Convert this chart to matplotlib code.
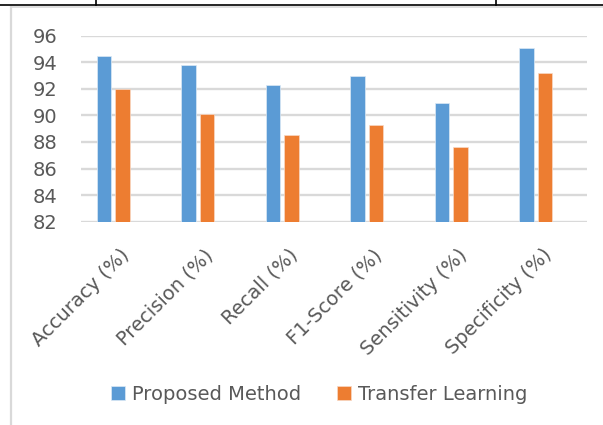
import matplotlib.pyplot as plt
from matplotlib.lines import Line2D
from matplotlib.transforms import ScaledTranslation
import numpy as np

plt.rcParams['font.family'] = ['DejaVu Sans']

# metric names and scores for the two approaches
metrics = ['Accuracy (%)', 'Precision (%)', 'Recall (%)',
           'F1-Score (%)', 'Sensitivity (%)', 'Specificity (%)']
proposed = [94.5, 93.8, 92.3, 93.0, 90.9, 95.1]
transfer = [92.0, 90.1, 88.5, 89.3, 87.6, 93.2]
yticks = [82, 84, 86, 88, 90, 92, 94, 96]

BLUE = '#5B9BD5'
ORANGE = '#ED7D31'
TEXT = '#595959'
GRID = '#D9D9D9'
FS = 14

W, H = 603, 425
fig = plt.figure(figsize=(W / 100, H / 100), dpi=100)
ax = fig.add_axes([80.7 / W, 1 - 221.7 / H, 506 / W, 186 / H])

x = np.arange(len(metrics))
bw = 0.173
ax.bar(x - 0.11, proposed, bw, color=BLUE, edgecolor='#DCE9F5', linewidth=0.5,
       zorder=3, label='Proposed Method')
ax.bar(x + 0.11, transfer, bw, color=ORANGE, edgecolor='#F8D9C5', linewidth=0.5,
       zorder=3, label='Transfer Learning')

ax.set_ylim(82, 96)
ax.set_xlim(-0.386, 5.602)
ax.set_yticks(yticks)
ax.yaxis.grid(True, color=GRID, linewidth=1.7, zorder=0)
ax.tick_params(axis='both', length=0, colors=TEXT, labelsize=FS)
ax.tick_params(axis='y', pad=17)
ax.tick_params(axis='x', pad=17)
for s in ax.spines.values():
    s.set_visible(False)

ax.set_xticks(x)
ax.set_xticklabels(metrics, rotation=45, ha='right', va='top',
                   rotation_mode='anchor', color=TEXT, fontsize=FS)
shift = ScaledTranslation(6 / 100, 0, fig.dpi_scale_trans)
for lbl in ax.get_xticklabels():
    lbl.set_transform(lbl.get_transform() + shift)

fig.legend(loc='center', bbox_to_anchor=(319.5 / W, 1 - 394 / H), ncol=2,
           frameon=False, fontsize=FS, handlelength=0.72, handleheight=0.72,
           handletextpad=0.35, columnspacing=1.85, labelcolor=TEXT)

# chart border and surrounding table rules
fig.add_artist(Line2D([11 / W, 11 / W], [0, 1 - 7 / H], color=GRID, linewidth=1.6))
fig.add_artist(Line2D([11 / W, 1], [1 - 7 / H, 1 - 7 / H], color=GRID, linewidth=1.2))
fig.add_artist(Line2D([0, 1], [1 - 5 / H, 1 - 5 / H], color='black', linewidth=1.2))
for vx in (96, 496):
    fig.add_artist(Line2D([vx / W, vx / W], [1 - 5 / H, 1], color='black', linewidth=1.2))

fig.savefig('out.png', dpi=100)
